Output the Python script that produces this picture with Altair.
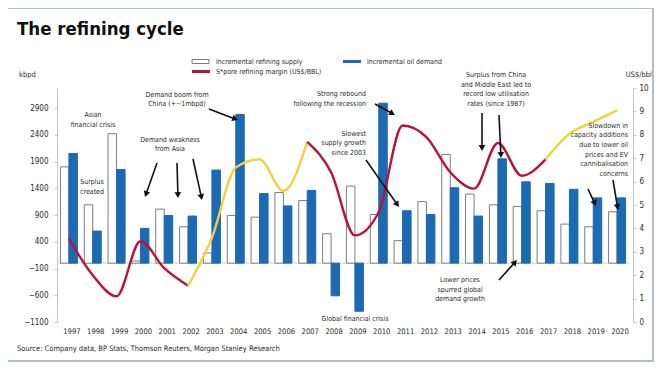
import math
import altair as alt
import pandas as pd

# ---------------- data ----------------
years = ["1997", "1998", "1999", "2000", "2001", "2002", "2003", "2004", "2005", "2006",
         "2007", "2008", "2009", "2010", "2011", "2012", "2013", "2014", "2015", "2016",
         "2017", "2018", "2019", "2020"]
supply = [1800, 1090, 2420, 40, 1010, 680, 190, 890, 860, 1320,
          1170, 550, 1440, 910, 420, 1150, 2030, 1290, 1090, 1060,
          980, 730, 680, 960]
demand = [2050, 600, 1750, 650, 890, 880, 1740, 2780, 1300, 1070,
          1360, -610, -900, 2990, 980, 910, 1410, 880, 1950, 1520,
          1490, 1380, 1220, 1220]
margin = [3.55, 2.0, 1.1, 3.45, 2.3, 1.55, 3.6, 6.6, 6.95, 5.6,
          7.7, 6.4, 3.7, 4.7, 8.4, 7.9, 6.4, 5.7, 7.65, 6.25,
          6.95, 8.05, 8.55, 9.05]
seg_breaks = ["1997", "2002", "2007", "2017", "2020"]
left_ticks = [-1100, -600, -100, 400, 900, 1400, 1900, 2400, 2900]
right_ticks = [0, 1, 2, 3, 4, 5, 6, 7, 8, 9, 10]

RED = "#b8133b"
YELLOW = "#f0d23c"
BLUE = "#1b6ab3"
GREY = "#7d7d7d"
FRAME = "#b0bec8"
TXT = "#2a2a2a"
FONT = "DejaVu Sans Condensed, Liberation Sans Narrow, Liberation Sans, sans-serif"

seg_colors = [RED, YELLOW, RED, YELLOW]

bar_rows = []
for y, s, d in zip(years, supply, demand):
    bar_rows.append({"year": y, "series": "supply", "value": s})
    bar_rows.append({"year": y, "series": "demand", "value": d})
bar_df = pd.DataFrame(bar_rows)

line_rows = []
seg_names = []
for i in range(len(seg_breaks) - 1):
    a = years.index(seg_breaks[i])
    b = years.index(seg_breaks[i + 1])
    name = f"seg{i}"
    seg_names.append(name)
    for k in range(a, b + 1):
        line_rows.append({"year": years[k], "margin": margin[k], "seg": name, "order": k})
line_df = pd.DataFrame(line_rows)

# ---------------- layout ----------------
W, H = 572, 234
PL, PT, PR, PB = 49, 80, 27, 46
OX, OY = 8 + PL, 8 + PT


def px(x):
    return x - OX


def py(y):
    return y - OY


one = pd.DataFrame({"a": [0]})

xscale = alt.Scale(domain=years, paddingInner=0.287, paddingOuter=0.1435)
xenc = alt.X("year:N", sort=years, scale=xscale,
             axis=alt.Axis(title=None, labelAngle=0, ticks=False, domain=False,
                           labelPadding=5, labelFont=FONT, labelFontSize=7.6,
                           labelColor=TXT, labelOffset=3, grid=False, labelOverlap=False))

yleft_scale = alt.Scale(domain=[-1100, 3274], nice=False, zero=False)
yleft_axis = alt.Axis(orient="left", values=left_ticks, title=None, grid=False, format="d",
                      labelOverlap=False,
                      domainColor="#c8c8c8", tickColor="#c8c8c8", tickSize=3,
                      labelPadding=6, labelFont=FONT, labelFontSize=8, labelColor=TXT)

zero_rule = alt.Chart(pd.DataFrame({"z": [0]})).mark_rule(color="#cfcfcf", strokeWidth=1).encode(
    y=alt.Y("z:Q", scale=yleft_scale, axis=yleft_axis)
)

bars = alt.Chart(bar_df).mark_bar(strokeWidth=1).encode(
    x=xenc,
    xOffset=alt.XOffset("series:N", sort=["supply", "demand"],
                        scale=alt.Scale(domain=["supply", "demand"], paddingInner=0, paddingOuter=0)),
    y=alt.Y("value:Q", scale=yleft_scale, axis=yleft_axis),
    fill=alt.Fill("series:N", scale=alt.Scale(domain=["supply", "demand"], range=["#ffffff", BLUE]), legend=None),
    stroke=alt.Stroke("series:N", scale=alt.Scale(domain=["supply", "demand"], range=[GREY, BLUE]), legend=None),
)

left = alt.layer(zero_rule, bars)

line = alt.Chart(line_df).mark_line(strokeWidth=2.4, interpolate="monotone").encode(
    x=xenc,
    y=alt.Y("margin:Q", scale=alt.Scale(domain=[0, 10], nice=False, zero=True),
            axis=alt.Axis(orient="right", values=right_ticks, title=None, grid=False, offset=4,
                          labelOverlap=False, format="d",
                          domainColor="#c8c8c8", tickColor="#c8c8c8", tickSize=3,
                          labelPadding=3, labelFont=FONT, labelFontSize=8, labelColor=TXT)),
    color=alt.Color("seg:N", scale=alt.Scale(domain=seg_names, range=seg_colors), legend=None),
    order=alt.Order("order:Q"),
)

ANN = 7.0


def text_layer(lines, x, y, align="center", size=ANN, color=TXT, weight="normal", lh=9.7):
    return alt.Chart(one).mark_text(align=align, baseline="middle", fontSize=size, font=FONT,
                                    color=color, fontWeight=weight, lineHeight=lh).encode(
        x=alt.value(px(x)), y=alt.value(py(y)), text=alt.value(lines))


def arrow(x1, y1, x2, y2):
    dx, dy = x2 - x1, y2 - y1
    L = math.hypot(dx, dy)
    ux, uy = dx / L, dy / L
    hx, hy = x2 - ux * 3.0, y2 - uy * 3.0
    ang = (math.degrees(math.atan2(dx, -dy)) + 360) % 360
    r = alt.Chart(one).mark_rule(color="#111111", strokeWidth=1.6).encode(
        x=alt.value(px(x1)), y=alt.value(py(y1)), x2=alt.value(px(hx)), y2=alt.value(py(hy)))
    h = alt.Chart(one).mark_point(shape="triangle-up", filled=True, size=45, color="#111111",
                                  opacity=1, angle=ang).encode(
        x=alt.value(px(hx)), y=alt.value(py(hy)))
    return [r, h]


def hrule(x1, x2, y, color, width):
    return alt.Chart(one).mark_rule(color=color, strokeWidth=width).encode(
        x=alt.value(px(x1)), x2=alt.value(px(x2)), y=alt.value(py(y)))


def vrule(x, y1, y2, color, width):
    return alt.Chart(one).mark_rule(color=color, strokeWidth=width).encode(
        x=alt.value(px(x)), y=alt.value(py(y1)), y2=alt.value(py(y2)))


extras = []
# frame
extras += [hrule(8, 654, 8, FRAME, 2), vrule(653, 8, 361, FRAME, 2), hrule(8, 654, 361, FRAME, 2)]
# title and axis titles
extras.append(text_layer("The refining cycle", 17, 29, align="left", size=18.5, color="#111111", weight="bold"))
extras.append(text_layer("kbpd", 19, 75, align="left", size=7.5))
extras.append(text_layer("US$/bbl", 652, 75, align="right", size=7.5))
extras.append(text_layer("Source: Company data, BP Stats, Thomson Reuters, Morgan Stanley Research",
                         17, 349, align="left", size=7.5))
# legend
extras.append(alt.Chart(one).mark_rect(fill="#ffffff", stroke=GREY, strokeWidth=1).encode(
    x=alt.value(px(192)), x2=alt.value(px(209)), y=alt.value(py(59.5)), y2=alt.value(py(63.5))))
extras.append(text_layer("Incremental refining supply", 216, 61.5, align="left"))
extras.append(hrule(192, 210, 71.5, RED, 3))
extras.append(text_layer("S*pore refining margin (US$/BBL)", 216, 71.5, align="left"))
extras.append(hrule(343, 361, 61.5, BLUE, 3))
extras.append(text_layer("Incremental oil demand", 367, 61.5, align="left"))

# annotations (y = first line)
extras.append(text_layer(["Asian", "financial crisis"], 93, 115))
extras.append(text_layer(["Surplus", "created"], 92, 182))
extras.append(text_layer(["Demand boom from", "China (+~1mbpd)"], 177, 94.5))
extras += arrow(209, 109, 238, 120)
extras.append(text_layer(["Demand weakness", "from Asia"], 170, 139.5))
extras += arrow(157, 163, 145, 197)
extras += arrow(177, 163, 178, 198)
extras += arrow(193, 159, 202, 200)
extras.append(text_layer(["Strong rebound", "following the recession"], 366, 94, align="right"))
extras += arrow(375, 104, 395, 115)
extras.append(text_layer(["Slowest", "supply growth", "since 2003"], 366, 133.5, align="right"))
extras += arrow(366, 160, 399, 207)
extras.append(text_layer("Global financial crisis", 355, 318.5))
extras.append(text_layer(["Lower prices", "spurred global", "demand growth"], 460, 280))
extras += arrow(499, 280, 517, 260)
extras.append(text_layer(["Surplus from China", "and Middle East led to", "record low utilisation",
                          "rates (since 1987)"], 496, 75))
extras += arrow(482, 113, 482, 151)
extras += arrow(499, 115, 501, 158)
extras.append(text_layer(["Slowdown in", "capacity additions", "due to lower oil", "prices and EV",
                          "cannibalisation", "concerns"], 628, 125.5, align="right"))
extras += arrow(588, 189, 596, 206)
extras += arrow(613, 180, 618, 210)

chart = alt.layer(left, line, *extras).resolve_scale(y="independent").properties(
    width=W, height=H,
    autosize=alt.AutoSizeParams(type="none"),
    padding={"left": PL, "top": PT, "right": PR, "bottom": PB},
    background="#ffffff",
).configure_view(stroke=None)

chart.save("out.html", embed_options={"renderer": "svg", "actions": False})
